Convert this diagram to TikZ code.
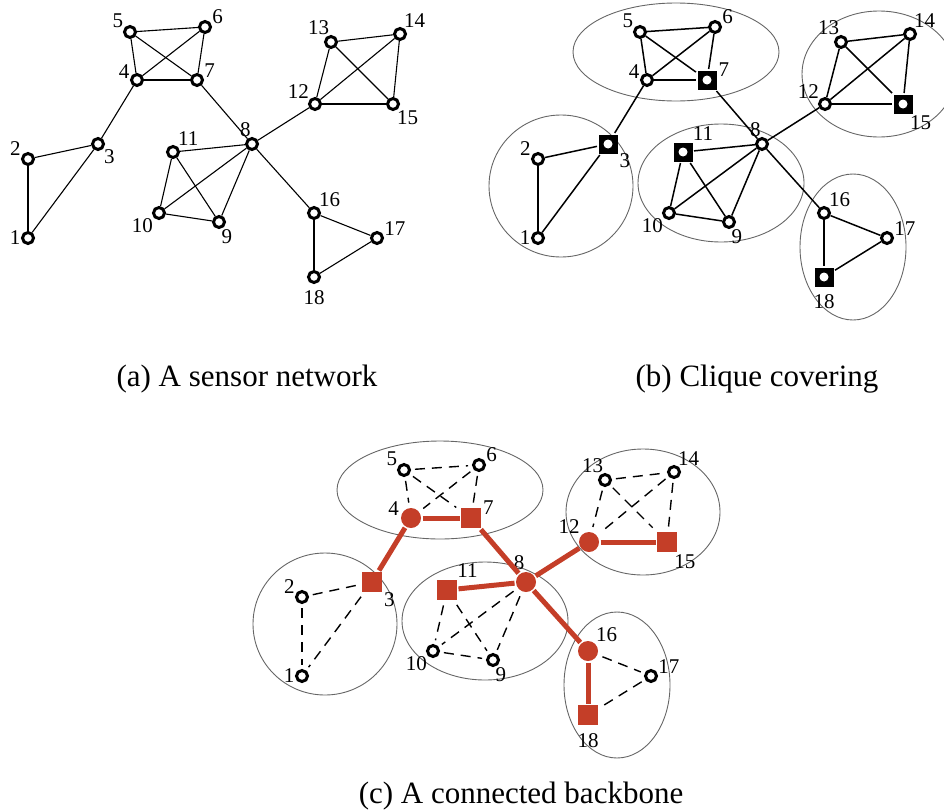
\documentclass[tikz,border=0pt]{standalone}
\usepackage{fontspec}
\setmainfont{Liberation Serif}
\usepackage{tikz}
\definecolor{trunkred}{RGB}{196,62,40}
\tikzset{
    Sensor/.style = {circle,draw,line width=3pt,fill=white,inner sep=0pt,minimum size=11pt},
    Head/.style = {rectangle,draw=none,fill=black,minimum size=19pt,
        path picture={\fill[white] (path picture bounding box.center) circle (4.5pt);}},
    Hub/.style = {circle,draw=none,fill=trunkred,minimum size=20pt},
    Gate/.style = {rectangle,draw=none,fill=trunkred,minimum size=20pt},
    Num/.style = {font=\fontsize{21}{21}\selectfont,inner sep=0.5pt},
    low18/.style = {yshift=-6pt},
    Caption/.style = {font=\fontsize{31}{31}\selectfont,anchor=base},
    Cluster/.style = {draw=black!60,line width=0.9pt},
    Trunk/.style = {draw=trunkred,line width=5pt}
}
% node/x/y/label angle, in the coordinates of panel (a)
\def\netnodes{1/28/238/180, 2/28/159/160, 3/98/144/-40, 4/137/80/170,
  5/130/32/150, 6/205/27/20, 7/197/80/15, 8/252/144/95, 9/219/222/-75,
  10/159/213/-140, 11/173/152/50, 12/315/104/140, 13/331/42/100,
  14/400/34/60, 15/393/104/-60, 16/314/213/50, 17/377/238/15, 18/314/277/-90}
\def\cliqueedges{5/6,5/4,5/7,6/4,6/7,2/3,2/1,3/1,13/14,13/12,13/15,14/12,
  14/15,11/10,11/9,8/10,8/9,10/9,16/17,17/18}
\def\backbone{3/4,4/7,7/8,8/11,8/12,12/15,8/16,16/18}
% cx/cy/rx/ry of the cliques
\def\cliques{166/52/103/49, 369/74/77/63, 51/186/72/71, 211/183/83/59, 343/247/53/73}

\begin{document}
\begin{tikzpicture}[x=1pt,y=-1pt]
\useasboundingbox (0,0) rectangle (944,811);

% (a) the sensor network
\begin{scope}[name prefix=a-]
  \foreach \n/\x/\y/\a in \netnodes
    {\node[Sensor,label={[Num,low\n/.try]\a:\n}] (\n) at (\x,\y) {};}
  \foreach \u/\v in \cliqueedges
    {\draw[line width=1.1pt] (\u) -- (\v);}
  \foreach \u/\v in \backbone
    {\draw[line width=1.1pt] (\u) -- (\v);}
\end{scope}
\node[Caption] (capa) at (247,386) {(a) A sensor network};

% (b) clique covering
\begin{scope}[shift={(510,0)},name prefix=b-,
    kind3/.style=Head,kind7/.style=Head,kind11/.style=Head,
    kind15/.style=Head,kind18/.style=Head]
  \foreach \cx/\cy/\rx/\ry in \cliques
    {\draw[Cluster] (\cx,\cy) ellipse [x radius=\rx pt,y radius=\ry pt];}
  \foreach \n/\x/\y/\a in \netnodes
    {\node[Sensor,kind\n/.try,label={[Num,low\n/.try]\a:\n}] (\n) at (\x,\y) {};}
  \foreach \u/\v in \cliqueedges
    {\draw[line width=1.5pt] (\u) -- (\v);}
  \foreach \u/\v in \backbone
    {\draw[line width=1.5pt] (\u) -- (\v);}
\end{scope}
\node[Caption] (capb) at (757,386) {(b) Clique covering};

% (c) the backbone
\begin{scope}[shift={(274,438)},name prefix=c-,
    kind3/.style=Gate,kind7/.style=Gate,kind11/.style=Gate,
    kind15/.style=Gate,kind18/.style=Gate,
    kind4/.style=Hub,kind8/.style=Hub,kind12/.style=Hub,kind16/.style=Hub]
  \foreach \cx/\cy/\rx/\ry in \cliques
    {\draw[Cluster] (\cx,\cy) ellipse [x radius=\rx pt,y radius=\ry pt];}
  \foreach \n/\x/\y/\a in \netnodes
    {\node[Sensor,kind\n/.try,label={[Num,low\n/.try]\a:\n}] (\n) at (\x,\y) {};}
  \foreach \u/\v in \cliqueedges
    {\draw[line width=1.4pt,dash pattern=on 10pt off 7pt,shorten <=4pt,shorten >=4pt] (\u) -- (\v);}
  \foreach \u/\v in \backbone
    {\draw[Trunk] (\u) -- (\v);}
\end{scope}
\node[Caption] (capc) at (521,803) {(c) A connected backbone};
\end{tikzpicture}
\end{document}
